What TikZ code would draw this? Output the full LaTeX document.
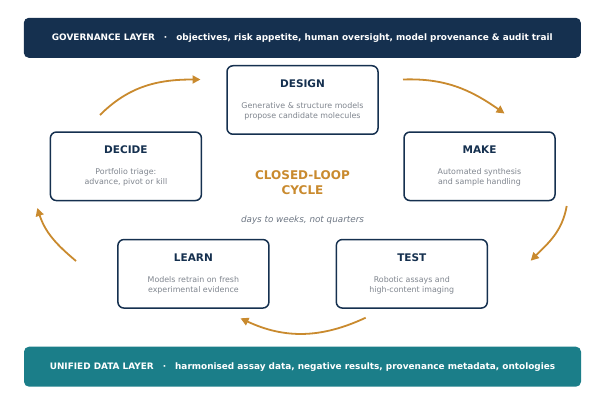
\documentclass[tikz,border=0pt]{standalone}
\usepackage{fontspec}
\setmainfont{DejaVu Sans}
\usetikzlibrary{arrows.meta}
\definecolor{navy}{HTML}{15304F}
\definecolor{tealbar}{HTML}{1B7E89}
\definecolor{orangec}{HTML}{C98A2E}
\definecolor{descgray}{HTML}{80868F}
\definecolor{italgray}{HTML}{6E7784}
\tikzset{
  stagebox/.style={draw=navy, line width=1.5pt, rounded corners=6pt, fill=white,
    minimum width=151pt, minimum height=68.5pt, inner sep=0pt},
  stagetitle/.style={text=navy, font=\fontsize{10.5}{12}\selectfont\bfseries, inner sep=0pt},
  stagedesc/.style={text=descgray, font=\fontsize{7.9}{9.8}\selectfont, align=center, inner sep=0pt},
  barnode/.style={rounded corners=5pt, minimum width=557pt, minimum height=40pt, inner sep=0pt,
    text=white, font=\fontsize{8.9}{10}\selectfont\bfseries},
  flow/.style={draw=orangec, line width=1.8pt, -{Triangle[length=8pt,width=8pt]}},
}
\begin{document}
\begin{tikzpicture}[x=1pt,y=1pt]
\useasboundingbox (0,0) rectangle (605,-398);
% bars
\node[barnode, fill=navy] (gov) at (302.3,-37.8) {GOVERNANCE LAYER\hspace{9pt}·\hspace{9pt}objectives, risk appetite, human oversight, model provenance \& audit trail};
\node[barnode, fill=tealbar] (data) at (302.5,-366.7) {UNIFIED DATA LAYER\hspace{9pt}·\hspace{9pt}harmonised assay data, negative results, provenance metadata, ontologies};
% boxes
\node[stagebox] (design) at (302.5,-100) {};
\node[stagebox] (decide) at (125.9,-166.3) {};
\node[stagebox] (make) at (479.5,-166.3) {};
\node[stagebox] (learn) at (193.4,-273.8) {};
\node[stagebox] (test) at (411.8,-273.8) {};
% titles and descriptions
\foreach \n/\t/\d in {design/DESIGN/{Generative \& structure models\\propose candidate molecules},
                      decide/DECIDE/{Portfolio triage:\\advance, pivot or kill},
                      make/MAKE/{Automated synthesis\\and sample handling},
                      learn/LEARN/{Models retrain on fresh\\experimental evidence},
                      test/TEST/{Robotic assays and\\high-content imaging}} {
  \node[stagetitle] (\n-title) at ([yshift=16.6pt]\n.center) {\t};
  \node[stagedesc] (\n-desc) at ([yshift=-11.3pt]\n.center) {\d};
}
% centre
\node[text=orangec, font=\fontsize{12}{15}\selectfont\bfseries, align=center, inner sep=0pt] (cycle) at (302.5,-182.5) {CLOSED-LOOP\\CYCLE};
\node[text=italgray, font=\fontsize{8.8}{10}\selectfont\itshape, inner sep=0pt] (pace) at (302.5,-220) {days to weeks, not quarters};
% arrow endpoints
\coordinate (a1s) at (100,-115);
\coordinate (a1e) at (200.5,-79.5);
\coordinate (a2s) at (403,-79.5);
\coordinate (a2e) at (504.5,-113.5);
\coordinate (a3s) at (566.7,-206);
\coordinate (a3e) at (530.7,-260.7);
\coordinate (a4s) at (365.7,-317.7);
\coordinate (a4e) at (240.5,-318.3);
\coordinate (a5s) at (76,-261);
\coordinate (a5e) at (37.3,-208);
\draw[flow] (a1s) to[out=45, in=180] (a1e);
\draw[flow] (a2s) to[out=2, in=145] (a2e);
\draw[flow] (a3s) to[out=-100, in=45] (a3e);
\draw[flow] (a4s) to[out=-155, in=-25] (a4e);
\draw[flow] (a5s) to[out=140, in=-72] (a5e);
\end{tikzpicture}
\end{document}
